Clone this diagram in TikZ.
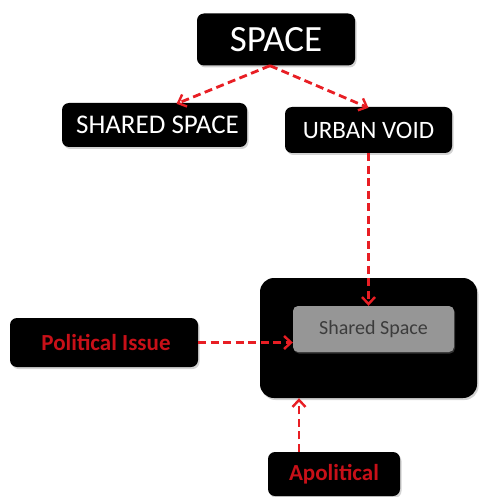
\documentclass[tikz,border=0pt]{standalone}
\usepackage{fontspec}
\setmainfont{Carlito}
\usetikzlibrary{arrows.meta,shadows}
\definecolor{arrred}{RGB}{232,30,36}
\definecolor{txtred}{RGB}{200,16,24}
\definecolor{boxgray}{RGB}{150,150,150}
\definecolor{txtgray}{RGB}{60,60,60}
\tikzset{
  blackbox/.style={fill=black, rounded corners=7pt, inner sep=0pt, text=white,
    drop shadow={shadow xshift=1.5pt, shadow yshift=-2pt, opacity=0.35}},
  graybox/.style={fill=boxgray, rounded corners=5pt, inner sep=0pt, text=txtgray,
    drop shadow={shadow xshift=1pt, shadow yshift=-1.5pt, opacity=0.4}},
  link/.style={draw=arrred, line width=2.8pt, dash pattern=on 8pt off 4.5pt,
    -{Straight Barb[length=7pt,width=13pt,line width=2.4pt]}},
}
\begin{document}
\begin{tikzpicture}[x=1pt,y=-1pt]
\useasboundingbox (0,0) rectangle (482,497);
\node[blackbox, minimum width=158pt, minimum height=52pt, font=\fontsize{37}{40}\selectfont] (space) at (276,39.5) {SPACE};
\node[blackbox, minimum width=185pt, minimum height=44pt, font=\fontsize{27}{30}\selectfont] (shared) at (154.5,125) {\hspace{6pt}SHARED SPACE};
\node[blackbox, minimum width=167pt, minimum height=46pt, font=\fontsize{25}{28}\selectfont] (urban) at (368.5,130) {URBAN VOID};
\node[blackbox, rounded corners=14pt, minimum width=217pt, minimum height=120pt] (big) at (368.5,338) {};
\node[graybox, minimum width=161pt, minimum height=46pt, font=\fontsize{20}{22}\selectfont] (gray) at (373.5,329) {Shared Space};
\node[blackbox, minimum width=188pt, minimum height=49pt, text=txtred, font=\bfseries\fontsize{23}{26}\selectfont] (political) at (104,342.5) {\hspace{4pt}Political Issue};
\node[blackbox, minimum width=132pt, minimum height=44pt, text=txtred, font=\bfseries\fontsize{23}{26}\selectfont] (apol) at (334,474) {Apolitical\hspace{8pt}};
\coordinate (spout) at ([xshift=-6pt]space.south);
\coordinate (apin) at ([xshift=-35pt]apol.north);
\draw[link] (spout) -- ([xshift=22pt,yshift=-1pt]shared.north);
\draw[link] (spout) -- ([yshift=-1pt]urban.north);
\draw[link] (urban.south) -- (gray.north -| urban.south);
\draw[link] (political.east) -- (gray.west |- political.east);
\draw[link] (apin) -- (apin |- big.south);
\end{tikzpicture}
\end{document}
